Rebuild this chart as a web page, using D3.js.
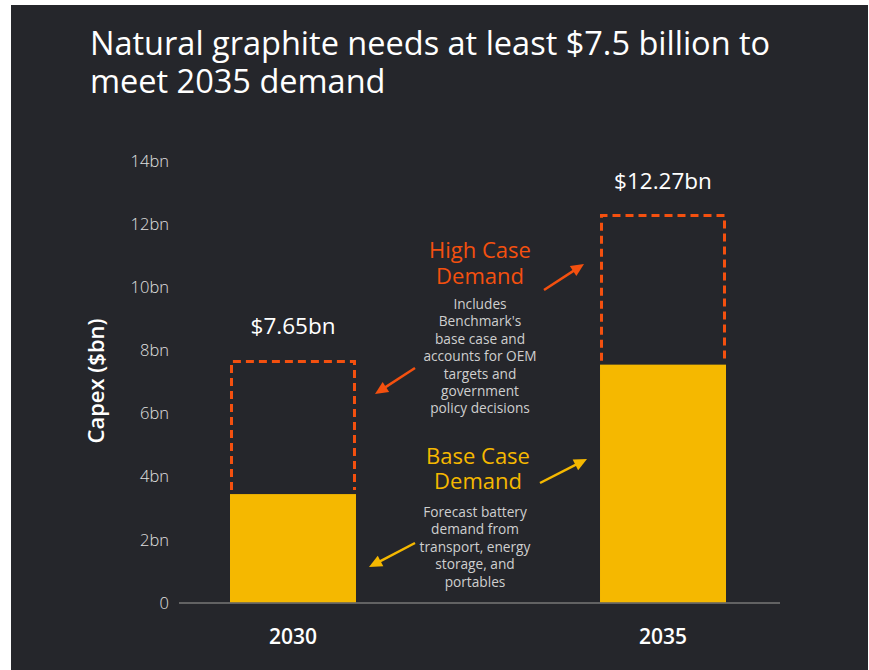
<!DOCTYPE html>
<html>
<head>
<meta charset="utf-8">
<script src="https://cdn.jsdelivr.net/npm/d3@7"></script>
<style>
  html, body { margin: 0; padding: 0; background: #fff; }
  svg { display: block; }
  text { font-family: "Open Sans", "Noto Sans", sans-serif; }
</style>
</head>
<body>
<script>
// chart data
var years = ["2030", "2035"];
var baseCase = [3.45, 7.55];
var highCase = [7.65, 12.27];
var highLabels = ["$7.65bn", "$12.27bn"];
var yTicks = [0, 2, 4, 6, 8, 10, 12, 14];

var titleLines = ["Natural graphite needs at least $7.5 billion to", "meet 2035 demand"];
var highNote = ["Includes", "Benchmark's", "base case and", "accounts for OEM", "targets and", "government", "policy decisions"];
var baseNote = ["Forecast battery", "demand from", "transport, energy", "storage, and", "portables"];

var W = 869, H = 670;
var bg = "#25262b", orange = "#f4500f", yellow = "#f5b800";

var svg = d3.select("body").append("svg")
    .attr("width", W)
    .attr("height", H);

svg.append("rect")
    .attr("x", 11).attr("y", 5)
    .attr("width", 857).attr("height", 665)
    .attr("fill", bg);

// title
svg.append("text")
    .attr("x", 90).attr("y", 55)
    .attr("fill", "#fff")
    .style("font-size", "32.5px")
    .style("font-weight", 500)
    .selectAll("tspan")
    .data(titleLines)
    .enter().append("tspan")
    .attr("x", 90)
    .attr("dy", (d, i) => i ? 38 : 0)
    .text(d => d);

var x = d3.scaleBand().domain(years).range([230, 726]).paddingInner(0.6595).paddingOuter(0);
var y = d3.scaleLinear().domain([0, 14]).range([603, 161]);

// y axis ticks (no line)
var yAxis = svg.append("g")
    .attr("transform", "translate(179,0)")
    .call(d3.axisLeft(y).tickValues(yTicks).tickSize(0).tickPadding(10)
        .tickFormat(d => d === 0 ? "0" : d + "bn"));
yAxis.select(".domain").remove();
yAxis.selectAll("text")
    .attr("fill", "#e0e0e0")
    .style("font-size", "16.5px")
    .style("font-weight", 300)
    .style("font-family", "\"Open Sans\", sans-serif");

svg.append("text")
    .attr("transform", "translate(104," + 381 + ") rotate(-90)")
    .attr("text-anchor", "middle")
    .attr("fill", "#fff")
    .style("font-size", "22px")
    .style("font-weight", 600)
    .text("Capex ($bn)");

// x axis baseline and labels
var xAxis = svg.append("g")
    .attr("transform", "translate(0,603)")
    .call(d3.axisBottom(x).tickSize(0).tickPadding(26));
xAxis.select(".domain").remove();
xAxis.selectAll("text")
    .attr("fill", "#fff")
    .style("font-size", "21px")
    .style("font-weight", 600)
    .style("font-family", "\"Open Sans\", sans-serif");
svg.append("line")
    .attr("x1", 179).attr("x2", 780)
    .attr("y1", y(0)).attr("y2", y(0))
    .attr("stroke", "#777").attr("stroke-width", 1.5);

// base case bars
svg.selectAll(".base")
    .data(years)
    .enter().append("rect")
    .attr("class", "base")
    .attr("x", d => x(d))
    .attr("width", x.bandwidth())
    .attr("y", (d, i) => y(baseCase[i]))
    .attr("height", (d, i) => y(0) - y(baseCase[i]) - 0.75)
    .attr("fill", yellow);

// high case dashed outline (open at bottom)
svg.selectAll(".high")
    .data(years)
    .enter().append("path")
    .attr("class", "high")
    .attr("d", (d, i) => {
        var x0 = x(d) + 1.5, x1 = x(d) + x.bandwidth() - 1.5;
        var yb = y(baseCase[i]) - 4, yt = y(highCase[i]);
        return "M" + x0 + "," + yb + "V" + yt + "H" + x1 + "V" + yb;
    })
    .attr("fill", "none")
    .attr("stroke", orange)
    .attr("stroke-width", 3)
    .attr("stroke-dasharray", "8,5");

svg.selectAll(".hlabel")
    .data(years)
    .enter().append("text")
    .attr("class", "hlabel")
    .attr("x", d => x(d) + x.bandwidth() / 2)
    .attr("y", (d, i) => y(highCase[i]) - 27)
    .attr("text-anchor", "middle")
    .attr("fill", "#fff")
    .style("font-size", "22.5px")
    .style("font-weight", 500)
    .text((d, i) => highLabels[i]);

// annotations
function block(lines, x0, y0, dy, size, color, weight) {
    svg.append("text")
        .attr("text-anchor", "middle")
        .attr("fill", color)
        .style("font-size", size + "px")
        .style("font-weight", weight)
        .selectAll("tspan")
        .data(lines)
        .enter().append("tspan")
        .attr("x", x0)
        .attr("y", (d, i) => y0 + i * dy)
        .text(d => d);
}
block(["High Case", "Demand"], 480, 258, 26, 22, orange, 500);
block(highNote, 480, 309, 17.4, 13.7, "#cfcfcf", 400);
block(["Base Case", "Demand"], 478, 464, 25, 22, yellow, 500);
block(baseNote, 475, 517, 17.4, 13.7, "#cfcfcf", 400);

// arrows: [x1, y1, tipX, tipY, colour]
var arrows = [
    [544, 290, 584, 264, orange],
    [415, 368, 375, 394, orange],
    [540, 483, 587, 459, yellow],
    [415, 543, 369, 567, yellow]
];
var arrowG = svg.selectAll(".arrow")
    .data(arrows)
    .enter().append("g")
    .attr("class", "arrow");
arrowG.append("line")
    .attr("x1", d => d[0]).attr("y1", d => d[1])
    .attr("x2", d => d[2] - 8 * (d[2] - d[0]) / Math.hypot(d[2] - d[0], d[3] - d[1]))
    .attr("y2", d => d[3] - 8 * (d[3] - d[1]) / Math.hypot(d[2] - d[0], d[3] - d[1]))
    .attr("stroke", d => d[4])
    .attr("stroke-width", 2.5);
arrowG.append("path")
    .attr("d", d => {
        var a = Math.atan2(d[3] - d[1], d[2] - d[0]) * 180 / Math.PI;
        return "M0,0L-13,-6L-13,6Z";
    })
    .attr("transform", d => "translate(" + d[2] + "," + d[3] + ") rotate(" +
        (Math.atan2(d[3] - d[1], d[2] - d[0]) * 180 / Math.PI) + ")")
    .attr("fill", d => d[4]);
</script>
</body>
</html>
